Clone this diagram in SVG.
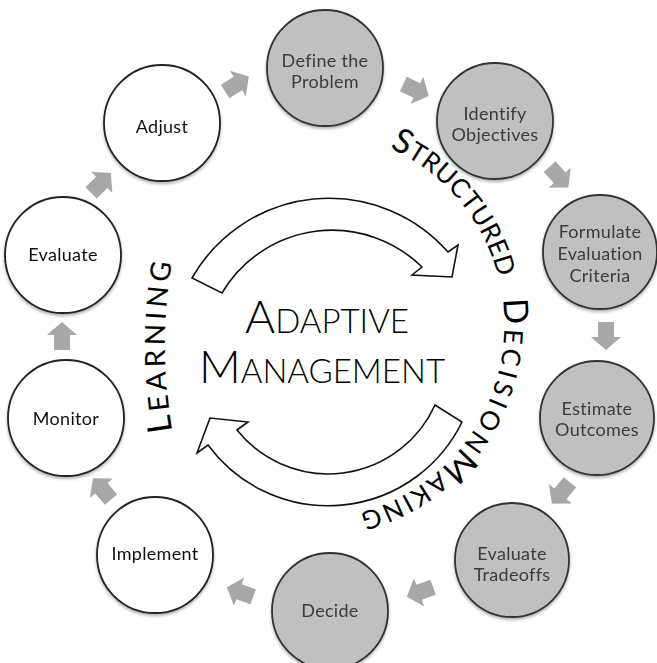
<svg xmlns="http://www.w3.org/2000/svg" xmlns:xlink="http://www.w3.org/1999/xlink" width="657" height="663" viewBox="0 0 657 663">
<style>
.gray{fill:#c0c0c0;stroke:#333;stroke-width:1.8}
.white{fill:#fff;stroke:#222;stroke-width:1.8}
.lbl{font-family:Lato,"Liberation Sans",sans-serif;font-size:18px;text-anchor:middle;letter-spacing:0.3px}
.lg{fill:#3a3a3a}
.lw{fill:#111}
.ga{fill:#a8a8a8}
.big-arrow{fill:#fff;stroke:#111;stroke-width:1.6;stroke-linejoin:miter}
.arc{font-family:Lato,"Liberation Sans",sans-serif;fill:#000}
.title{font-family:Lato,"Liberation Sans",sans-serif;font-weight:300;fill:#000;text-anchor:middle}
</style>
<defs>
<filter id="sh" x="-20%" y="-20%" width="140%" height="140%"><feDropShadow dx="0" dy="2" stdDeviation="1.5" flood-color="#000" flood-opacity="0.3"/></filter>
<path id="ga" d="M-14,-8 H1 V-15 L14,0 L1,15 V8 H-14 Z"/>
<path id="sdmArc" d="M376.4,142.7 A194,194 0 0 1 276.3,516.1" fill="none"/>
<path id="learnArc" d="M175.1,445 A500,500 0 0 1 176.1,240" fill="none"/>
</defs>
<rect width="657" height="663" fill="#fff"/>

<g id="connectors">
<use href="#ga" class="ga" transform="translate(101,183) rotate(-45)"/>
<use href="#ga" class="ga" transform="translate(237,84) rotate(-32)"/>
<use href="#ga" class="ga" transform="translate(416,90) rotate(25)"/>
<use href="#ga" class="ga" transform="translate(559,177) rotate(48)"/>
<use href="#ga" class="ga" transform="translate(606,336) rotate(90)"/>
<use href="#ga" class="ga" transform="translate(561,493) rotate(130)"/>
<use href="#ga" class="ga" transform="translate(420,592) rotate(160)"/>
<use href="#ga" class="ga" transform="translate(240,592) rotate(-160)"/>
<use href="#ga" class="ga" transform="translate(102,489) rotate(-130)"/>
<use href="#ga" class="ga" transform="translate(62,336) rotate(-90)"/>
</g>

<g id="cycle-arrows">
<path class="big-arrow" d="M192,278 A158,158 0 0 1 448,252 L458,245 L452,277 L412,275 L422,267 A128,128 0 0 0 222,293 Z"/>
<path class="big-arrow" d="M462,422 A149,149 0 0 1 208,445 L197,453 L210,418 L248,422 L237,430 A117,117 0 0 0 435,405 Z"/>
</g>

<g id="title">
<text class="title" x="327" y="333"><tspan font-size="46">A</tspan><tspan font-size="33">DAPTIVE</tspan></text>
<text class="title" x="322" y="383"><tspan font-size="46">M</tspan><tspan font-size="33">ANAGEMENT</tspan></text>
</g>

<g id="arc-labels">
<text class="arc" letter-spacing="0.3"><textPath href="#sdmArc" startOffset="14"><tspan font-size="34">S</tspan><tspan font-size="26">TRUCTURED</tspan></textPath></text>
<text class="arc" letter-spacing="4"><textPath href="#sdmArc" startOffset="211"><tspan font-size="34">D</tspan><tspan font-size="26">ECISION</tspan></textPath></text>
<text class="arc" letter-spacing="2.2"><textPath href="#sdmArc" startOffset="368"><tspan font-size="34">M</tspan><tspan font-size="26">AKING</tspan></textPath></text>
<text class="arc" letter-spacing="4"><textPath href="#learnArc" startOffset="14"><tspan font-size="34">L</tspan><tspan font-size="28">EARNING</tspan></textPath></text>
</g>

<g id="node-define" filter="url(#sh)"><circle class="gray" cx="325" cy="68" r="58"/><text class="lbl lg" x="325" y="67">Define the</text><text class="lbl lg" x="325" y="88">Problem</text></g>
<g id="node-identify" filter="url(#sh)"><circle class="gray" cx="495" cy="121" r="58"/><text class="lbl lg" x="495" y="120">Identify</text><text class="lbl lg" x="495" y="141">Objectives</text></g>
<g id="node-formulate" filter="url(#sh)"><circle class="gray" cx="600" cy="252" r="57"/><text class="lbl lg" x="600" y="238">Formulate</text><text class="lbl lg" x="600" y="260">Evaluation</text><text class="lbl lg" x="600" y="282">Criteria</text></g>
<g id="node-estimate" filter="url(#sh)"><circle class="gray" cx="597" cy="418" r="57"/><text class="lbl lg" x="597" y="415">Estimate</text><text class="lbl lg" x="597" y="436">Outcomes</text></g>
<g id="node-tradeoffs" filter="url(#sh)"><circle class="gray" cx="512" cy="560" r="57"/><text class="lbl lg" x="512" y="560">Evaluate</text><text class="lbl lg" x="512" y="581">Tradeoffs</text></g>
<g id="node-decide" filter="url(#sh)"><circle class="gray" cx="330" cy="611" r="58"/><text class="lbl lg" x="330" y="617">Decide</text></g>
<g id="node-implement" filter="url(#sh)"><circle class="white" cx="155" cy="555" r="58"/><text class="lbl lw" x="155" y="560">Implement</text></g>
<g id="node-monitor" filter="url(#sh)"><circle class="white" cx="66" cy="418" r="58"/><text class="lbl lw" x="66" y="425">Monitor</text></g>
<g id="node-evaluate" filter="url(#sh)"><circle class="white" cx="63" cy="255" r="58"/><text class="lbl lw" x="63" y="261">Evaluate</text></g>
<g id="node-adjust" filter="url(#sh)"><circle class="white" cx="162" cy="123" r="58"/><text class="lbl lw" x="162" y="133">Adjust</text></g>
</svg>
